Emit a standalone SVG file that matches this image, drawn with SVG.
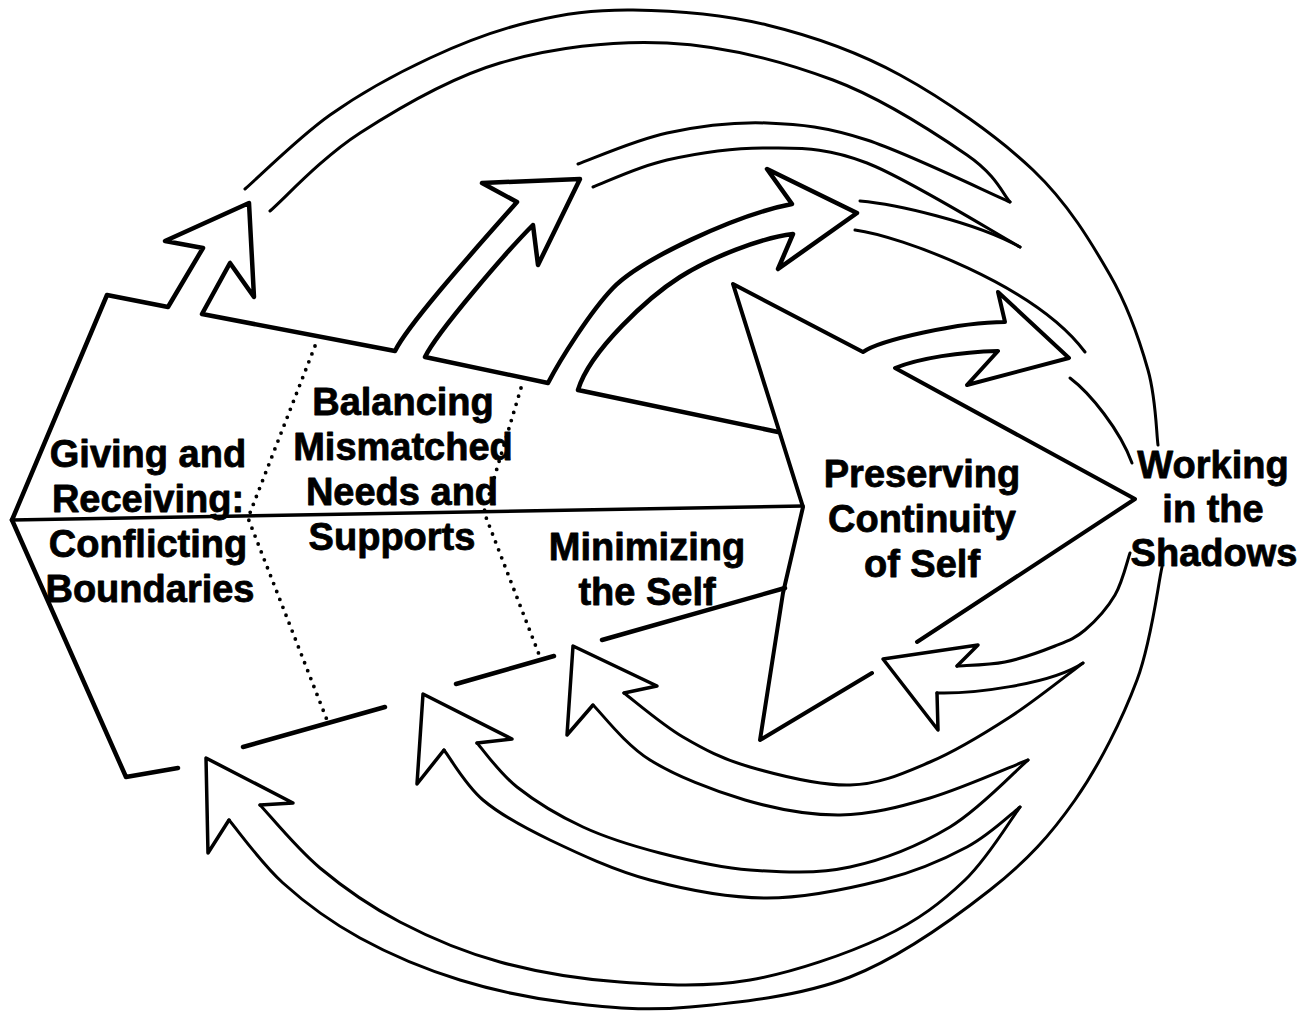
<svg xmlns="http://www.w3.org/2000/svg" width="1307" height="1015" viewBox="0 0 1307 1015">
  <style>
    .ln{fill:none;stroke:#000;stroke-linejoin:round;stroke-linecap:round}
    .edge{stroke-width:4.5}
    .tri{stroke-width:4}
    .mid{stroke-width:3.5}
    .band{stroke-width:3}
    .head{stroke-width:3.5}
    .dot{fill:none;stroke:#000;stroke-width:3.8;stroke-linecap:round;stroke-dasharray:0 8.5}
    .lbl{font-family:"Liberation Sans",Arial,Helvetica,sans-serif;font-weight:bold;font-size:38px;text-anchor:middle;fill:#000;stroke:#000;stroke-width:0.8;stroke-linejoin:round}
  </style>
  <rect width="1307" height="1015" fill="#fff"/>

  <!-- main wedge: three stages with outgoing arrows on its upper edge -->
  <g id="stages">
    <path class="ln edge" d="M12,520 L107,295 L168,307 L203,248 L165,241 L249,203 L254,297 L230,263 L202,314 L395,351 C410,321 489,234 517,202 L482,183 L580,179 L538,265 L533,225 C508,250 437,332 425,357 L548,383 C560,360 590,312 613,288 C640,260 735,215 792,204 L767,169 L857,213 L778,269 L793,234 C760,238 710,258 680,277 C650,296 590,350 578,390 L778,432"/>
    <path class="ln edge" d="M12,520 L126,777 L178,768 M243,747 L385,707 M456,684 L554,656 M602,640 L785,588"/>
    <path class="ln mid" d="M12,520 L803,506"/>
    <path class="dot" d="M315,346 L248,518 L327,720"/>
    <path class="dot" d="M521,388 L484,512 L540,657"/>
  </g>

  <g id="giving-receiving">
    <text class="lbl" x="148" y="467">Giving and</text>
    <text class="lbl" x="148" y="512">Receiving:</text>
    <text class="lbl" x="148" y="557">Conflicting</text>
    <text class="lbl" x="150" y="602">Boundaries</text>
  </g>

  <g id="balancing">
    <text class="lbl" x="403" y="415">Balancing</text>
    <text class="lbl" x="403" y="460">Mismatched</text>
    <text class="lbl" x="402" y="505">Needs and</text>
    <text class="lbl" x="392" y="550">Supports</text>
  </g>

  <g id="minimizing">
    <text class="lbl" x="647" y="560">Minimizing</text>
    <text class="lbl" x="647" y="605">the Self</text>
  </g>

  <!-- large arrowhead -->
  <g id="preserving">
    <path class="ln tri" d="M872,673 L760,740 L783,593 L803,507 L733,284 L863,352 C880,340 960,322 1005,322 L998,292 L1069,358 L967,385 L998,351 C960,352 920,358 895,368 L1135,499 L917,642"/>
    <text class="lbl" x="922" y="487">Preserving</text>
    <text class="lbl" x="922" y="532">Continuity</text>
    <text class="lbl" x="922" y="577">of Self</text>
  </g>

  <g id="working">
    <text class="lbl" x="1213" y="478">Working</text>
    <text class="lbl" x="1213" y="522">in the</text>
    <text class="lbl" x="1214" y="566">Shadows</text>
  </g>

  <!-- circulating bands -->
  <g id="connectors" class="ln band">
    <!-- upper bands running toward the right -->
    <path d="M245,189 C259.2,176.7 299.2,136.8 330,115 C360.8,93.2 396.7,73.5 430,58 C463.3,42.5 496.2,30 530,22 C563.8,14 593.5,9.5 633,10 C672.5,10.5 722.5,14.2 767,25 C811.5,35.8 855.7,50.8 900,75 C944.3,99.2 998,136.7 1033,170 C1068,203.3 1090.8,241.7 1110,275 C1129.2,308.3 1140,341.7 1148,370 C1156,398.3 1156.3,432.5 1158,445"/>
    <path d="M270,211 C285,198 321.7,157.7 360,133 C398.3,108.3 448.8,78 500,63 C551.2,48 611.5,40.2 667,43 C722.5,45.8 783,61.3 833,80 C883,98.7 937.5,134.7 967,155 C996.5,175.3 1002.8,194.2 1010,202"/>
    <path d="M578,164 C592.8,158.8 635.5,139.8 667,133 C698.5,126.2 733.7,121.8 767,123 C800.3,124.2 826.5,126.8 867,140 C907.5,153.2 986.2,191.7 1010,202"/>
    <path d="M593,187 C605.3,182.5 638,166.5 667,160 C696,153.5 733.7,147.5 767,148 C800.3,148.5 824.8,146.5 867,163 C909.2,179.5 994.5,233 1020,247"/>
    <path d="M860,201 C895,204 975,222 1020,247"/>
    <path d="M855,230 C900,236 1035,285 1085,352"/>
    <path d="M1070,378 C1090,393 1120,430 1132,463"/>

    <!-- lower bands returning to the stages -->
    <path class="head" d="M260,805 L293,803 L206,758 L208,853 L229,820"/>
    <path d="M260,805 C270,815.5 296.7,848.5 320,868 C343.3,887.5 370,906.3 400,922 C430,937.7 463.3,952 500,962 C536.7,972 578.3,979 620,982 C661.7,985 706.2,987.5 750,980 C793.8,972.5 847.2,953.7 883,937 C918.8,920.3 942.2,901.7 965,880 C987.8,858.3 1010.8,819.2 1020,807"/>
    <path d="M229,820 C238,830.5 261.2,863.3 283,883 C304.8,902.7 330.5,921.8 360,938 C389.5,954.2 425,969.2 460,980 C495,990.8 531.7,998.5 570,1003 C608.3,1007.5 643.3,1011.3 690,1007 C736.7,1002.7 800,996.5 850,977 C900,957.5 952.5,919.5 990,890 C1027.5,860.5 1050.5,835 1075,800 C1099.5,765 1122.5,718.8 1137,680 C1151.5,641.2 1157.8,585.8 1162,567"/>

    <path class="head" d="M477,743 L512,739 L423,694 L417,784 L444,750"/>
    <path d="M444,750 C450.5,758.3 465.3,785 483,800 C500.7,815 522.2,826.7 550,840 C577.8,853.3 613.8,870.3 650,880 C686.2,889.7 728.2,898 767,898 C805.8,898 849.7,888.5 883,880 C916.3,871.5 944.2,859.2 967,847 C989.8,834.8 1011.2,813.7 1020,807"/>
    <path d="M477,743 C483.7,750.3 499.3,773 517,787 C534.7,801 559.2,816 583,827 C606.8,838 632.2,845.8 660,853 C687.8,860.2 718.3,867.7 750,870 C781.7,872.3 816.7,874.2 850,867 C883.3,859.8 920.3,844.8 950,827 C979.7,809.2 1015,771.2 1028,760"/>

    <path class="head" d="M624,693 L657,686 L573,646 L567,735 L593,705"/>
    <path d="M593,705 C602.5,714.2 624.7,744.2 650,760 C675.3,775.8 713.3,790.8 745,800 C776.7,809.2 809.2,815.3 840,815 C870.8,814.7 898.7,807.2 930,798 C961.3,788.8 1011.7,766.3 1028,760"/>
    <path d="M624,693 C633.8,700.3 662,724.7 683,737 C704,749.3 722.2,759 750,767 C777.8,775 820,785.8 850,785 C880,784.2 903.3,773.3 930,762 C956.7,750.7 984.5,733.5 1010,717 C1035.5,700.5 1070.8,672 1083,663"/>

    <path class="head" d="M957,666 L978,645 L883,659 L938,730 L937,693"/>
    <path d="M937,693 C970,694 1050,685 1083,663"/>
    <path d="M957,666 C965,665.3 988.7,665.3 1005,662 C1021.3,658.7 1041.7,651.3 1055,646 C1068.3,640.7 1075,638.5 1085,630 C1095,621.5 1107.5,607.8 1115,595 C1122.5,582.2 1127.5,560 1130,553"/>
  </g>
</svg>
